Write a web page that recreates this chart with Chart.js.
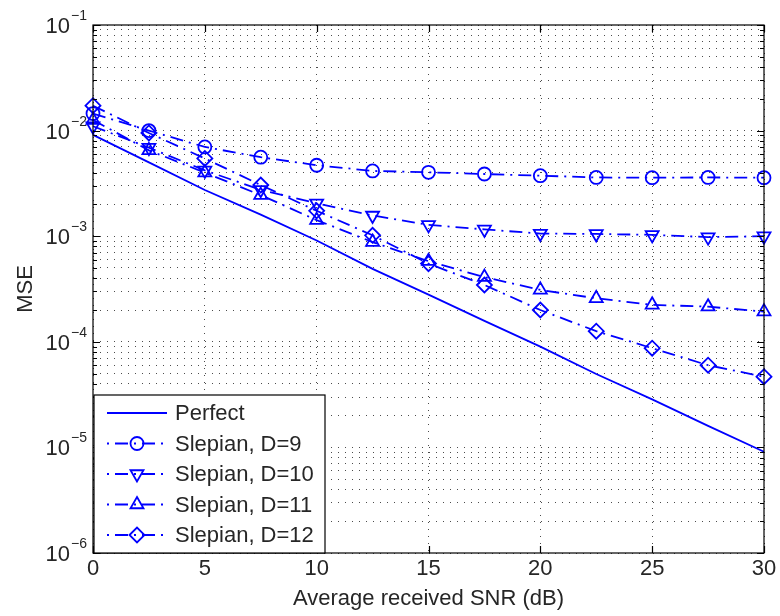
<!DOCTYPE html>
<html>
<head>
<meta charset="utf-8">
<script src="https://cdn.jsdelivr.net/npm/chart.js@4.4.0/dist/chart.umd.min.js"></script>
<style>
  html, body { margin: 0; padding: 0; background: #fff; }
  #wrap { width: 780px; height: 616px; }
</style>
</head>
<body>
<div id="wrap"><canvas id="mseChart" width="780" height="616"></canvas></div>
<script>
// SNR points (dB)
const snr = [0, 2.5, 5, 7.5, 10, 12.5, 15, 17.5, 20, 22.5, 25, 27.5, 30];

// MSE curves
const msePerfect = [9.1e-3, 5.0e-3, 2.74e-3, 1.6e-3, 9.1e-4, 4.9e-4, 2.8e-4, 1.58e-4, 9.0e-5, 4.95e-5, 2.85e-5, 1.6e-5, 9.1e-6];
const mseD9  = [1.45e-2, 1.0e-2, 7.0e-3, 5.6e-3, 4.7e-3, 4.15e-3, 4.03e-3, 3.88e-3, 3.74e-3, 3.6e-3, 3.58e-3, 3.6e-3, 3.58e-3];
const mseD10 = [1.1e-2, 6.9e-3, 4.2e-3, 2.75e-3, 2.05e-3, 1.57e-3, 1.28e-3, 1.16e-3, 1.06e-3, 1.05e-3, 1.03e-3, 9.8e-4, 1.0e-3];
const mseD11 = [1.26e-2, 6.5e-3, 4.0e-3, 2.45e-3, 1.42e-3, 8.8e-4, 5.8e-4, 4.1e-4, 3.1e-4, 2.58e-4, 2.24e-4, 2.15e-4, 1.93e-4];
const mseD12 = [1.72e-2, 9.5e-3, 5.45e-3, 3.05e-3, 1.74e-3, 1.02e-3, 5.5e-4, 3.45e-4, 2.0e-4, 1.26e-4, 8.7e-5, 6.0e-5, 4.67e-5];

// axis ticks
const xTicks = [0, 5, 10, 15, 20, 25, 30];
const yDecades = [1e-6, 1e-5, 1e-4, 1e-3, 1e-2, 1e-1];
const yExponents = ['\u22126', '\u22125', '\u22124', '\u22123', '\u22122', '\u22121'];

const BLUE = '#0000ff';
const TEXT = '#262626';
const FONT = "'Liberation Sans', Arial, Helvetica, sans-serif";
const DASHDOT = [13, 6, 2, 6];

// 1..9 x 10^k ticks for the log axis (minor grid included)
const yTicks = [];
yDecades.forEach((d, i) => {
  if (i === yDecades.length - 1) { yTicks.push({ value: d, major: true }); return; }
  for (let m = 1; m <= 9; m++) yTicks.push({ value: d * m, major: m === 1 });
});

const toPoints = arr => arr.map((v, i) => ({ x: snr[i], y: v }));

function series(label, values, style, rotation) {
  return {
    label: label,
    data: toPoints(values),
    borderColor: BLUE,
    borderWidth: 1.8,
    borderDash: DASHDOT,
    pointStyle: style,
    pointRotation: rotation || 0,
    pointRadius: style === 'circle' ? 6.5 : 7.5,
    pointBorderWidth: 1.8,
    pointBorderColor: BLUE,
    pointBackgroundColor: 'rgba(0,0,0,0)',
    clip: false
  };
}

const axesAndLegend = {
  id: 'axesAndLegend',
  afterDatasetsDraw(chart) {
    const { ctx, chartArea: a, scales: { x, y } } = chart;
    ctx.save();
    ctx.strokeStyle = '#000';
    ctx.lineWidth = 1.2;
    ctx.setLineDash([]);
    ctx.strokeRect(a.left, a.top, a.right - a.left, a.bottom - a.top);
    ctx.beginPath();
    x.ticks.forEach(t => {
      const px = Math.round(x.getPixelForValue(t.value)) + 0.5;
      ctx.moveTo(px, a.bottom); ctx.lineTo(px, a.bottom - 7);
      ctx.moveTo(px, a.top); ctx.lineTo(px, a.top + 7);
    });
    y.ticks.forEach(t => {
      const py = Math.round(y.getPixelForValue(t.value)) + 0.5;
      const len = t.major ? 7 : 4;
      ctx.moveTo(a.left, py); ctx.lineTo(a.left + len, py);
      ctx.moveTo(a.right, py); ctx.lineTo(a.right - len, py);
    });
    ctx.stroke();
    ctx.restore();
  },
  afterDraw(chart) {
    const { ctx, chartArea: a, scales: { y } } = chart;
    ctx.save();
    ctx.fillStyle = TEXT;

    // y tick labels: 10 with superscript exponent
    yDecades.forEach((d, i) => {
      const py = y.getPixelForValue(d);
      ctx.font = '14px ' + FONT;
      const ew = ctx.measureText(yExponents[i]).width;
      ctx.textAlign = 'left';
      ctx.textBaseline = 'alphabetic';
      ctx.fillText(yExponents[i], 87 - ew, py - 5);
      ctx.font = '22px ' + FONT;
      ctx.textAlign = 'right';
      ctx.fillText('10', 87 - ew - 1, py + 8);
    });

    // axis titles
    ctx.font = '22px ' + FONT;
    ctx.textAlign = 'center';
    ctx.textBaseline = 'alphabetic';
    ctx.fillText('Average received SNR (dB)', (a.left + a.right) / 2, 605);
    ctx.save();
    ctx.translate(32, (a.top + a.bottom) / 2);
    ctx.rotate(-Math.PI / 2);
    ctx.fillText('MSE', 0, 0);
    ctx.restore();

    // legend box in the lower left corner
    const box = { left: a.left + 1, top: 395, right: 325, bottom: a.bottom };
    ctx.fillStyle = '#fff';
    ctx.fillRect(box.left, box.top, box.right - box.left, box.bottom - box.top);
    ctx.strokeStyle = '#000';
    ctx.lineWidth = 1.2;
    ctx.strokeRect(box.left, box.top, box.right - box.left, box.bottom - box.top);

    chart.data.datasets.forEach((ds, i) => {
      const cy = 413 + i * 30.5;
      ctx.strokeStyle = ds.borderColor;
      ctx.lineWidth = ds.borderWidth;
      ctx.setLineDash(ds.borderDash || []);
      ctx.lineDashOffset = ds.borderDash ? 19 : 0;
      ctx.beginPath();
      ctx.moveTo(107, cy);
      ctx.lineTo(167, cy);
      ctx.stroke();
      ctx.setLineDash([]);
      if (ds.pointRadius > 0) {
        ctx.fillStyle = 'rgba(0,0,0,0)';
        ctx.strokeStyle = ds.pointBorderColor;
        ctx.lineWidth = ds.pointBorderWidth;
        Chart.helpers.drawPoint(ctx, {
          pointStyle: ds.pointStyle,
          rotation: ds.pointRotation,
          radius: ds.pointRadius,
          borderWidth: ds.pointBorderWidth
        }, 137, cy);
      }
      ctx.fillStyle = TEXT;
      ctx.font = '22px ' + FONT;
      ctx.textAlign = 'left';
      ctx.textBaseline = 'middle';
      ctx.fillText(ds.label, 175, cy + 1);
    });
    ctx.restore();
  }
};

const ctx = document.getElementById('mseChart').getContext('2d');
const mseChart = new Chart(ctx, {
  type: 'line',
  data: {
    datasets: [
      {
        label: 'Perfect',
        data: toPoints(msePerfect),
        borderColor: BLUE,
        borderWidth: 1.8,
        pointRadius: 0,
        clip: false
      },
      series('Slepian, D=9', mseD9, 'circle'),
      series('Slepian, D=10', mseD10, 'triangle', 180),
      series('Slepian, D=11', mseD11, 'triangle'),
      series('Slepian, D=12', mseD12, 'rectRot')
    ]
  },
  options: {
    responsive: false,
    animation: false,
    layout: { padding: { left: 0, right: 16, top: 25, bottom: 0 } },
    plugins: {
      legend: { display: false },
      tooltip: { enabled: false }
    },
    scales: {
      x: {
        type: 'linear',
        min: 0,
        max: 30,
        afterBuildTicks: s => { s.ticks = xTicks.map(v => ({ value: v })); },
        afterFit: s => { s.height = 63; },
        grid: { color: 'rgba(0,0,0,0.7)', lineWidth: 1, drawTicks: false },
        border: { display: false, dash: [1, 6] },
        ticks: {
          padding: 3,
          color: TEXT,
          font: { family: FONT, size: 22 },
          maxRotation: 0,
          autoSkip: false
        }
      },
      y: {
        type: 'logarithmic',
        min: 1e-6,
        max: 1e-1,
        afterBuildTicks: s => { s.ticks = yTicks.map(t => ({ value: t.value, major: t.major })); },
        afterFit: s => { s.width = 93; },
        grid: { color: 'rgba(0,0,0,0.7)', lineWidth: 1, drawTicks: false },
        border: { display: false, dash: [1, 6] },
        ticks: { display: false }
      }
    }
  },
  plugins: [axesAndLegend]
});
</script>
</body>
</html>
